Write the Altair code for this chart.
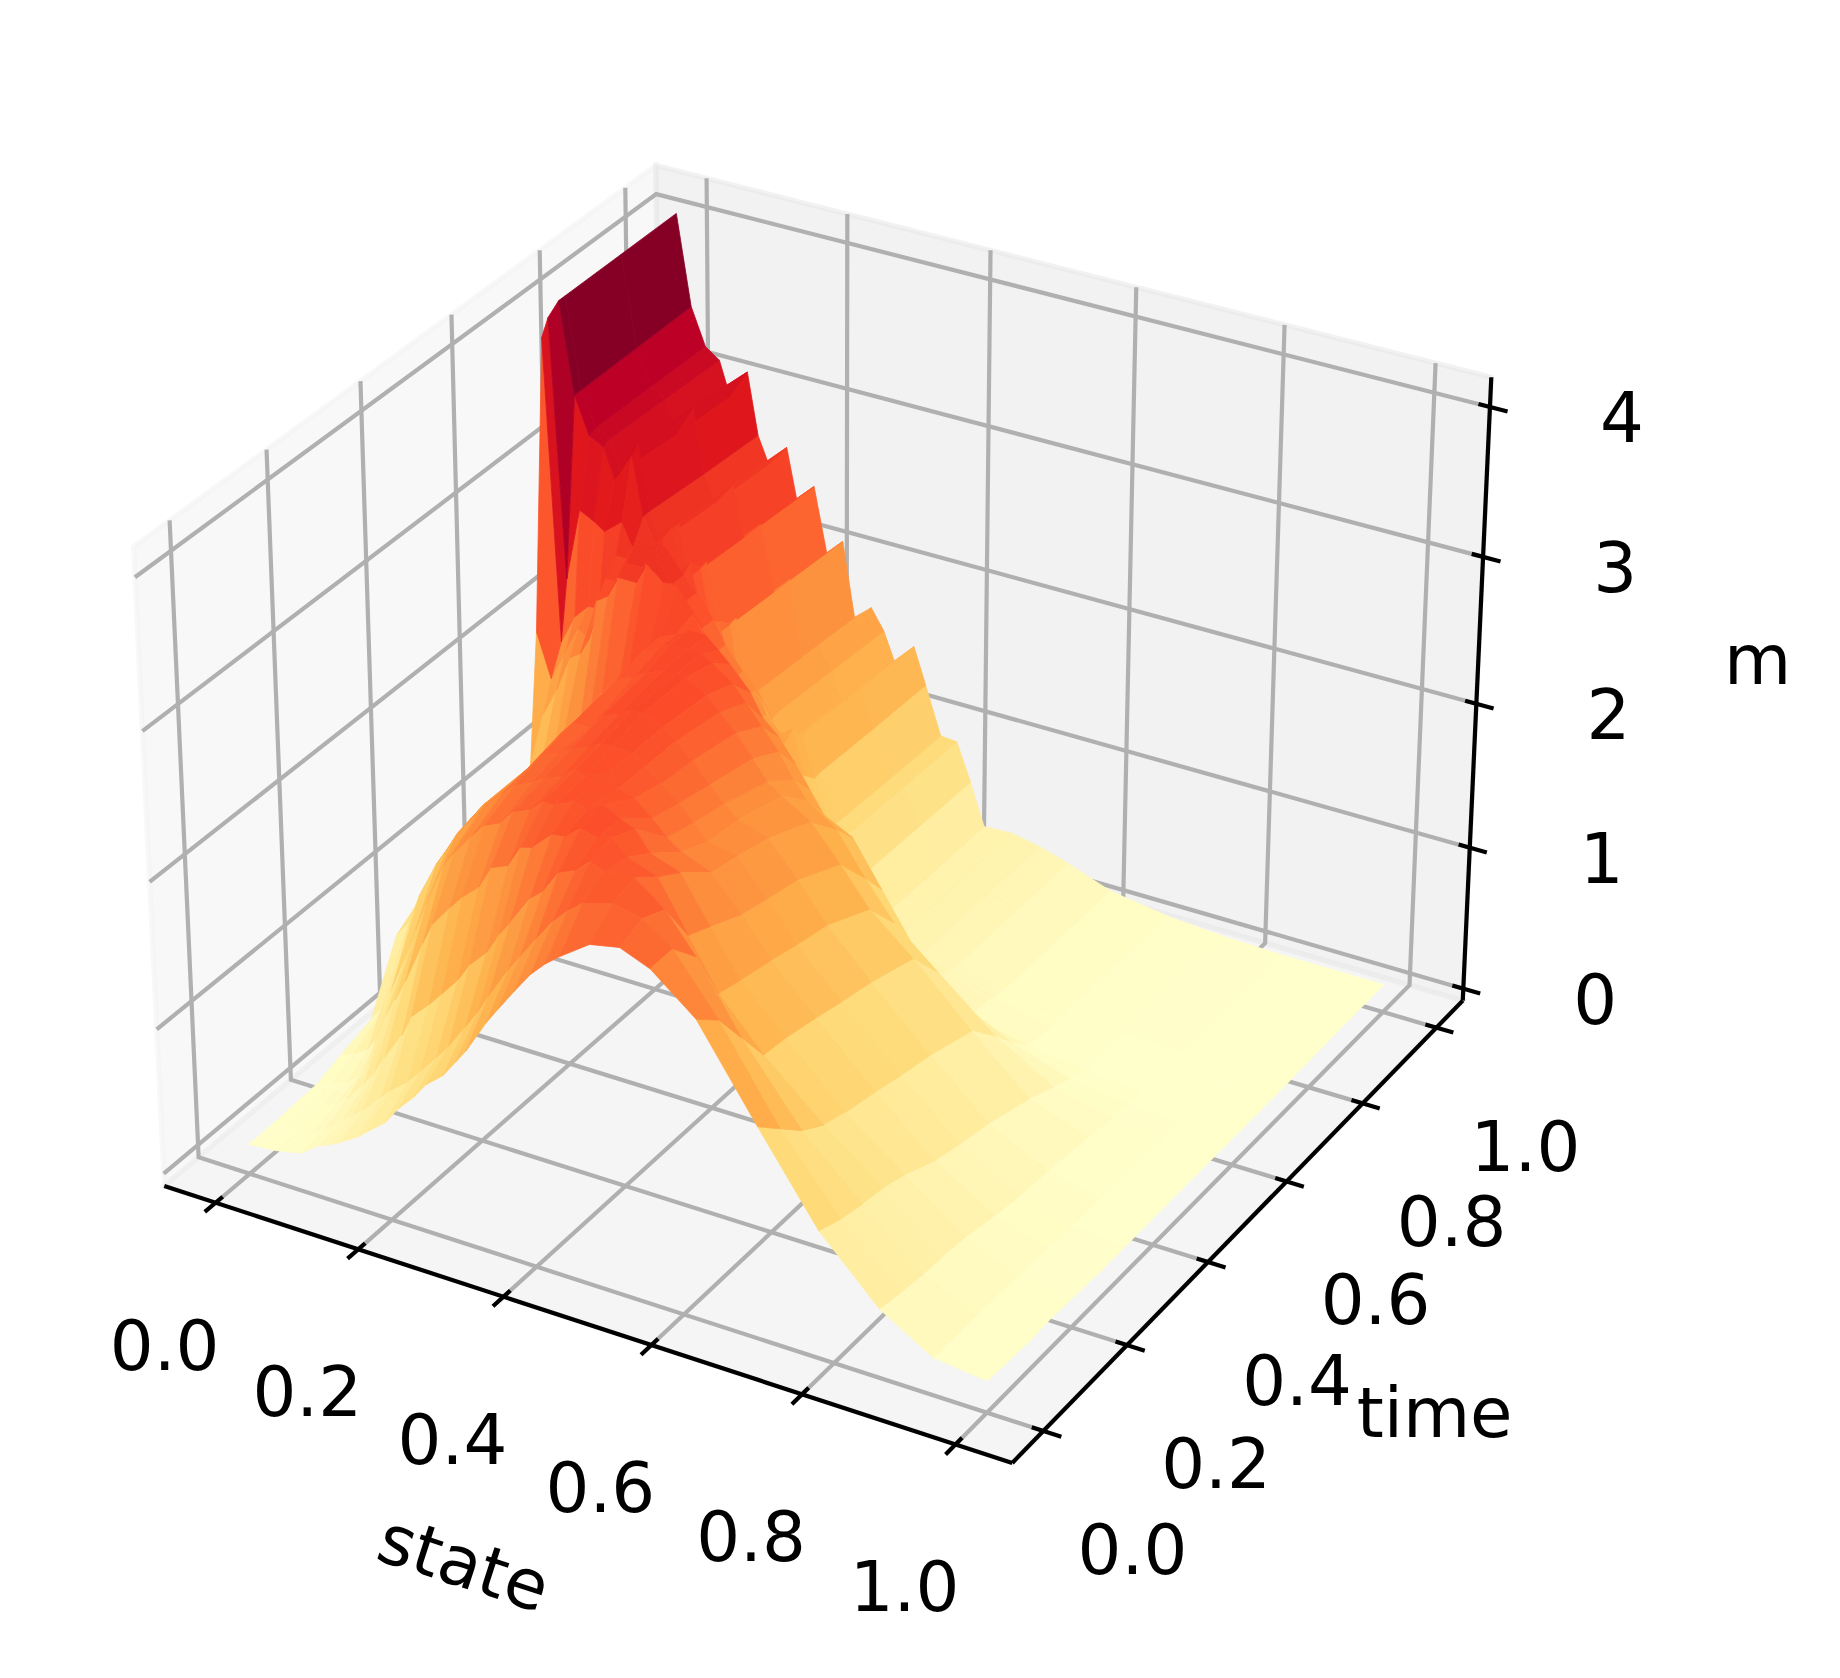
import altair as alt

# ---- values ----
STATE = [0, .02, .04, .06, .075, .1, .115, .13, .156, .17, .195, .213, .236, .253, .277, .295,
         .31, .338, .355, .377, .4, .42, .44, .48, .52, .56, .62, .7, .78, .86, .93, 1]
TIME = [0, .05, .1, .15, .2, .27, .33, .4, .5, .56, .6, .64, .66, .685, .7, .725, .74, .87, 1]
M = [
 [.12,.13,.14,.16,.18,.27,.3,.34,.42,.48,.58,.7,.82,.93,1.03,1.15,1.25,1.48,1.6,1.75,1.9,2.0,2.08,2.22,2.26,2.18,1.94,1.35,.78,.38,.17,.13],
 [.12,.13,.15,.17,.2,.3,.36,.42,.55,.62,.72,.82,.95,1.05,1.22,1.35,1.48,1.7,1.82,1.97,2.12,2.22,2.3,2.36,2.32,2.18,1.8,1.2,.72,.35,.16,.12],
 [.13,.15,.18,.22,.28,.42,.52,.65,.85,1.0,1.12,1.22,1.35,1.48,1.6,1.75,1.85,2.05,2.12,2.28,2.33,2.42,2.38,2.4,2.25,2.0,1.55,1.05,.68,.33,.16,.11],
 [.14,.17,.2,.28,.4,.75,.9,1.05,1.35,1.5,1.65,1.75,1.85,2.0,2.05,2.2,2.22,2.35,2.36,2.45,2.42,2.45,2.35,2.28,1.95,1.62,1.3,.95,.65,.32,.16,.12],
 [.2,.24,.3,.45,.75,1.05,1.25,1.45,1.75,1.85,2.0,2.1,2.15,2.25,2.3,2.38,2.38,2.45,2.42,2.48,2.42,2.38,2.25,2.18,1.88,1.58,1.28,.9,.6,.3,.15,.11],
 [.27,.4,.75,1.05,1.25,1.5,1.62,1.75,1.9,2.0,2.12,2.2,2.25,2.3,2.35,2.42,2.4,2.45,2.38,2.35,2.25,2.15,2.08,2.0,1.78,1.53,1.23,.85,.5,.25,.14,.1],
 [.7,.82,1.05,1.2,1.35,1.6,1.7,1.8,1.92,2.0,2.15,2.25,2.3,2.35,2.4,2.45,2.45,2.45,2.38,2.3,2.2,2.1,2.0,1.96,1.73,1.48,1.18,.8,.45,.22,.13,.1],
 [.85,.95,1.1,1.25,1.4,1.6,1.7,1.8,1.92,2.0,2.2,2.3,2.3,2.4,2.45,2.5,2.5,2.45,2.38,2.28,2.15,2.05,1.97,1.9,1.68,1.43,1.13,.75,.4,.2,.12,.1],
 [.95,1.05,1.15,1.3,1.45,1.6,1.7,1.8,1.95,2.05,2.22,2.35,2.4,2.45,2.5,2.5,2.5,2.42,2.33,2.22,2.08,1.95,1.88,1.76,1.53,1.28,1.03,.65,.3,.16,.11,.1],
 [1.0,1.1,1.2,1.35,1.5,1.65,1.75,1.85,2.0,2.1,2.25,2.4,2.45,2.5,2.5,2.5,2.45,2.35,2.25,2.12,1.98,1.82,1.7,1.56,1.28,1.03,.78,.45,.22,.13,.11,.1],
 [1.05,1.15,1.25,1.4,1.55,1.7,1.8,1.9,2.05,2.15,2.25,2.4,2.45,2.5,2.5,2.42,2.35,2.2,2.05,1.95,1.8,1.65,1.5,1.4,1.1,.8,.5,.3,.17,.12,.1,.1],
 [1.1,1.5,1.7,1.95,2.0,2.4,2.45,2.6,2.6,2.75,2.65,2.65,2.5,2.3,2.15,2.0,1.9,1.75,1.55,1.35,1.1,.85,.65,.5,.42,.36,.27,.17,.12,.1,.1,.1],
 [2.0,1.7,1.9,2.1,2.05,2.5,2.5,2.65,2.65,2.75,2.6,2.5,2.35,2.2,2.05,1.95,1.8,1.65,1.5,1.2,1.05,.8,.5,.45,.4,.35,.25,.16,.12,.1,.1,.1],
 [3.95,1.9,2.1,2.2,2.2,2.6,2.6,2.75,2.7,2.75,2.6,2.5,2.35,2.2,2.05,1.95,1.8,1.65,1.45,1.2,1.05,.8,.55,.45,.4,.35,.25,.15,.12,.1,.1,.1],
 [4.05,2.3,2.8,2.75,2.7,2.8,2.65,2.6,2.75,2.5,2.65,2.3,2.3,1.95,2.0,1.85,1.6,1.7,1.4,1.1,1.05,.75,.47,.42,.39,.33,.23,.15,.12,.1,.1,.1],
 [4.11,3.5,3.25,3.2,3.0,3.2,2.8,2.65,2.78,2.42,2.55,2.1,2.22,1.7,1.8,1.65,1.47,1.58,1.32,1.02,1.0,.72,.43,.42,.38,.32,.22,.15,.12,.1,.1,.1],
 [4.11,3.5,3.27,3.22,3.02,3.25,2.8,2.62,2.78,2.42,2.56,2.1,2.23,1.7,1.82,1.66,1.47,1.6,1.33,1.0,.98,.72,.42,.42,.38,.32,.21,.15,.12,.11,.1,.1],
 [4.11,3.5,3.26,3.2,2.98,3.2,2.76,2.58,2.74,2.39,2.52,2.07,2.19,1.67,1.78,1.63,1.44,1.57,1.31,.98,.97,.71,.41,.42,.38,.32,.21,.15,.12,.11,.11,.11],
 [4.11,3.5,3.25,3.18,2.95,3.15,2.73,2.55,2.7,2.36,2.48,2.04,2.15,1.64,1.74,1.6,1.41,1.55,1.3,.97,.96,.7,.41,.42,.38,.32,.21,.15,.12,.11,.11,.11],
]
XY_TICKS = [0, .2, .4, .6, .8, 1.0]
XY_LABELS = ["0.0", "0.2", "0.4", "0.6", "0.8", "1.0"]
Z_TICKS = [0, 1, 2, 3, 4]
Z_LABELS = ["0", "1", "2", "3", "4"]
YLORRD = ["#ffffcc", "#ffeda0", "#fed976", "#feb24c", "#fd8d3c", "#fc4e2a", "#e31a1c", "#bd0026", "#800026"]
COLOR_TOP = 3.85

# ---- camera: elevation 30, azimuth -60, distance 10 ----
Z_TOP = 4.11
BOX = 1.1429
BOX_Z = 0.8571
SCALE, TX, TY = 8160.0, 825.5 - 8, 783.0 - 8
n = (0.4330, -0.75, 0.5)
u = (0.8660, 0.5, 0.0)
v = (-0.25, 0.4330, 0.8660)


def view(x, y, z):
    c = ((x - .5) / 1.1 * BOX, (y - .5) / 1.1 * BOX, (z - Z_TOP / 2) / Z_TOP * BOX_Z)
    d = sum(a * b for a, b in zip(c, n))
    w = 10 - d
    xs = sum(a * b for a, b in zip(c, u)) / w
    ys = sum(a * b for a, b in zip(c, v)) / w
    return [TX + SCALE * xs, TY - SCALE * ys], w


def P(x, y, z):
    return view(x, y, z)[0]


X0, X1 = -.05 - 1.1 / 48, 1.05 + 1.1 / 48
Z0, Z1 = -Z_TOP / 48, Z_TOP + Z_TOP / 48


def feature(kind, coords, **props):
    f = {"type": "Feature", "properties": {}, "geometry": {"type": kind, "coordinates": coords}}
    f.update(props)
    return f


def poly(points, **props):
    ring = [P(*p) for p in points]
    ring.append(ring[0])
    return feature("Polygon", [ring], **props)


def line(points, **props):
    return feature("LineString", [P(*p) for p in points], **props)


IDENT = dict(type="identity", scale=1, translate=[0, 0])

panes = [
    poly([(X0, X0, Z0), (X0, X1, Z0), (X0, X1, Z1), (X0, X0, Z1)], f="#f2f2f2", k="#f2f2f2"),
    poly([(X0, X1, Z0), (X1, X1, Z0), (X1, X1, Z1), (X0, X1, Z1)], f="#e6e6e6", k="#e6e6e6"),
    poly([(X0, X0, Z0), (X1, X0, Z0), (X1, X1, Z0), (X0, X1, Z0)], f="#ececec", k="#ececec"),
]
pane_layer = alt.Chart(alt.Data(values=panes)).mark_geoshape(
    fillOpacity=.5, strokeOpacity=.5, strokeWidth=5, strokeJoin="miter"
).encode(fill=alt.Fill("f:N", scale=None), stroke=alt.Stroke("k:N", scale=None)).project(**IDENT)

grid = []
for t in XY_TICKS:
    grid.append(line([(t, X0, Z0), (t, X1, Z0), (t, X1, Z1)]))
    grid.append(line([(X1, t, Z0), (X0, t, Z0), (X0, t, Z1)]))
for t in Z_TICKS:
    grid.append(line([(X0, X0, t), (X0, X1, t), (X1, X1, t)]))
grid_layer = alt.Chart(alt.Data(values=grid)).mark_geoshape(
    filled=False, stroke="#b0b0b0", strokeWidth=4.2
).project(**IDENT)

cells = []
for i in range(len(TIME) - 1):
    for j in range(len(STATE) - 1):
        corners = [(STATE[j], TIME[i], M[i][j]), (STATE[j + 1], TIME[i], M[i][j + 1]),
                   (STATE[j + 1], TIME[i + 1], M[i + 1][j + 1]), (STATE[j], TIME[i + 1], M[i + 1][j])]
        mean = sum(c[2] for c in corners) / 4
        depth = sum(view(*c)[1] for c in corners) / 4
        cells.append((depth, poly(corners, v=mean)))
cells.sort(key=lambda c: -c[0])
cells = [c[1] for c in cells]
zmin = min(min(r) for r in M)
domain = [zmin + (COLOR_TOP - zmin) * k / 8 for k in range(9)]
cscale = alt.Scale(domain=domain, range=YLORRD, interpolate="rgb", clamp=True)
surface = alt.Chart(alt.Data(values=cells)).mark_geoshape(strokeWidth=.8, strokeJoin="round").encode(
    fill=alt.Fill("v:Q", scale=cscale, legend=None),
    stroke=alt.Stroke("v:Q", scale=cscale, legend=None),
).project(**IDENT)

OUT, IN = .023, .015
axes = [
    line([(X0, X0, Z0), (X1, X0, Z0)]),
    line([(X1, X0, Z0), (X1, X1, Z0)]),
    line([(X1, X1, Z0), (X1, X1, Z1)]),
]
for t in XY_TICKS:
    axes.append(line([(t, X0 - OUT, Z0), (t, X0 + IN, Z0)]))
    axes.append(line([(X1 + OUT, t, Z0), (X1 - IN, t, Z0)]))
for t in Z_TICKS:
    axes.append(line([(X1 + OUT, X1, t), (X1 - IN, X1, t)]))
axis_layer = alt.Chart(alt.Data(values=axes)).mark_geoshape(
    filled=False, stroke="#000000", strokeWidth=4.2, strokeJoin="miter"
).project(**IDENT)

texts = []
for t, s in zip(XY_TICKS, XY_LABELS):
    a = P(t, X0, Z0)
    texts.append({"lon": a[0] - 51, "lat": a[1] + 146, "s": s, "r": 0})
    a = P(X1, t, Z0)
    texts.append({"lon": a[0] + 89, "lat": a[1] + 122, "s": s, "r": 0})
for t, s in zip(Z_TICKS, Z_LABELS):
    a = P(X1, X1, t)
    texts.append({"lon": a[0] + 132, "lat": a[1] + 14, "s": s, "r": 0})
a = P(.5, X0, Z0)
texts.append({"lon": a[0] - 114, "lat": a[1] + 245, "s": "state", "r": 18})
a = P(X1, .5, Z0)
texts.append({"lon": a[0] + 187, "lat": a[1] + 195, "s": "time", "r": 0})
a = P(X1, X1, Z_TOP / 2)
texts.append({"lon": a[0] + 281, "lat": a[1] - 33, "s": "m", "r": 0})
text_layer = alt.Chart(alt.Data(values=texts)).mark_text(
    font="DejaVu Sans", fontSize=69, color="#000000", align="center", baseline="middle"
).encode(
    longitude="lon:Q", latitude="lat:Q", text="s:N",
    angle=alt.Angle("r:Q", scale=None),
).project(**IDENT)

chart = alt.layer(pane_layer, grid_layer, surface, axis_layer, text_layer).resolve_scale(
    fill="independent", stroke="independent"
).properties(
    width=1820, height=1650, padding=0, background="#ffffff",
    autosize=alt.AutoSizeParams(type="none"),
).configure_view(stroke=None)

chart.save("out.html", embed_options={"renderer": "svg", "actions": False})
